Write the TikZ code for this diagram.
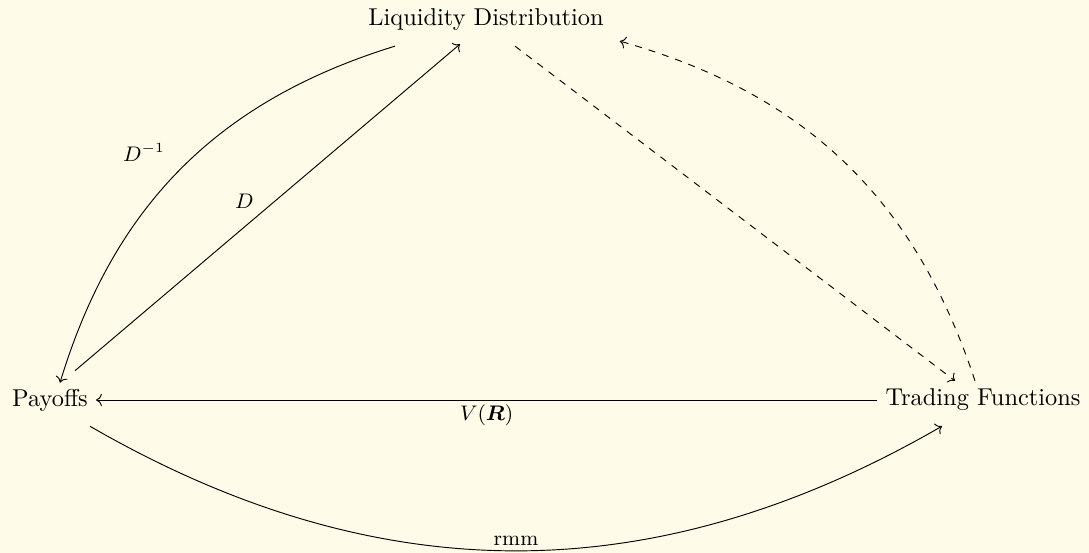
\documentclass[tikz,border=0pt]{standalone}
\usepackage{amsmath,amssymb}
\usepackage{xcolor}
\usetikzlibrary{arrows.meta, calc}
\definecolor{paper}{RGB}{254,252,232}

\begin{document}
\begin{tikzpicture}[x=0.015cm, y=0.015cm,
  obj/.style={inner sep=3.3pt, font=\fontsize{10.4}{12}\selectfont},
  map/.style={->},
  dmap/.style={->, dashed},
  lbl/.style={inner sep=2pt, font=\small}
]
  \fill[paper] (0,0) rectangle (1089,553);
  \useasboundingbox (0,0) rectangle (1089,553);

  \node[obj] (liq) at (486,533) {Liquidity Distribution};
  \node[obj] (pay) at (50,153) {Payoffs};
  \node[obj] (trd) at (983,153) {Trading Functions};

  % solid maps
  \draw[map] ($(liq.south)+(-91,-7)$) to[bend right=28]
    node[lbl, pos=.45, left=12pt] {$D^{-1}$} ($(pay.north)+(10,-2)$);
  \draw[map] ($(pay.north)+(25,10)$) -- node[lbl, pos=.52, left=7pt] {$D$} ($(liq.south)+(-26,-5)$);
  \draw[map] (trd.west) -- node[lbl, below] {$V(\boldsymbol{R})$} (pay.east);
  \draw[map] ($(pay.south)+(40,-7)$) to[bend right=30]
    node[lbl, above] {rmm} ($(trd.south)+(-41,-7)$);

  % dashed maps
  \draw[dmap] ($(liq.south)+(29,-7)$) -- ($(trd.north)+(-28,0)$);
  \draw[dmap] ($(trd.north)+(-8,0)$) to[bend right=28] ($(liq.south east)+(8,-2)$);
\end{tikzpicture}
\end{document}
